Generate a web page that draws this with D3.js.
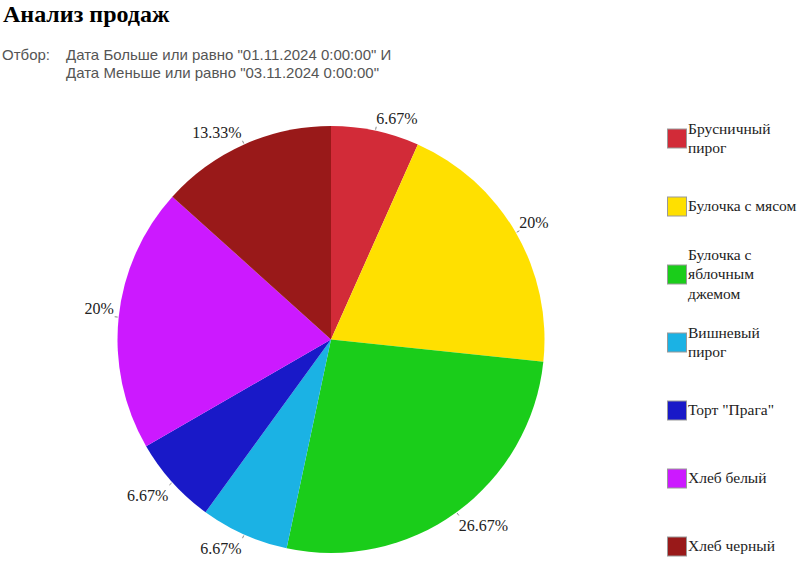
<!DOCTYPE html>
<html><head><meta charset="utf-8">
<script src="https://cdn.jsdelivr.net/npm/d3@7"></script>
<style>
body{margin:0;background:#fff;}
.serif{font-family:"Liberation Serif","Times New Roman",Times,serif;}
.sans{font-family:"Liberation Sans",Arial,Helvetica,sans-serif;}
</style></head>
<body>
<svg id="c" width="812" height="580"></svg>
<script>
const categories = ["Брусничный пирог","Булочка с мясом","Булочка с яблочным джемом","Вишневый пирог","Торт \"Прага\"","Хлеб белый","Хлеб черный"];
const values = [1,3,4,1,1,3,2];
const colors = ["#D22B38","#FFE000","#1ACD1A","#1BB2E4","#1919C8","#CC19FF","#991919"];
const legendLines = [["Брусничный","пирог"],["Булочка с мясом"],["Булочка с","яблочным","джемом"],["Вишневый","пирог"],["Торт \"Прага\""],["Хлеб белый"],["Хлеб черный"]];

const svg = d3.select("#c");
svg.append("text").attr("class","serif").attr("x",3).attr("y",22).attr("font-weight","bold").attr("font-size",24).attr("fill","#000").text("Анализ продаж");
const sub = svg.append("g").attr("class","sans").attr("font-size",15).attr("fill","#555");
sub.append("text").attr("x",2).attr("y",60).text("Отбор:");
sub.append("text").attr("x",66).attr("y",60).text("Дата Больше или равно \"01.11.2024 0:00:00\" И");
sub.append("text").attr("x",66).attr("y",78).text("Дата Меньше или равно \"03.11.2024 0:00:00\"");

const cx = 331, cy = 339.5, r = 213.5;
const total = d3.sum(values);
const pie = d3.pie().sort(null).value(d=>d)(values);
const arc = d3.arc().innerRadius(0).outerRadius(r);
const g = svg.append("g").attr("transform",`translate(${cx},${cy})`);
g.selectAll("path").data(pie).join("path").attr("d",arc).attr("fill",(d,i)=>colors[i]);

const fmt = v => { const p = Math.round(v/total*10000)/100; return p + "%"; };
pie.forEach((d,i)=>{
  const a = (d.startAngle+d.endAngle)/2;
  const sx = Math.sin(a), sy = -Math.cos(a);
  const x1 = sx*(r+1), y1 = sy*(r+1), x2 = sx*(r+4), y2 = sy*(r+4);
  g.append("line").attr("x1",x1).attr("y1",y1).attr("x2",x2).attr("y2",y2).attr("stroke","#888").attr("stroke-width",1);
  const right = sx >= 0;
  const top = sy < 0;
  g.append("text").attr("class","serif").attr("x",x2 + (right?0:-1)).attr("y", top ? y2-3 : y2+16)
    .attr("text-anchor", right?"start":"end")
    .attr("font-size",16).attr("fill","#222")
    .text(fmt(d.data));
});

const lg = svg.append("g").attr("class","serif").attr("font-size",15.5).attr("fill","#222");
categories.forEach((c,i)=>{
  const yc = 138.5 + i*68;
  lg.append("rect").attr("x",667.5).attr("y",yc-9.5).attr("width",19).attr("height",19).attr("fill",colors[i]).attr("stroke","#999").attr("stroke-width",1);
  const lines = legendLines[i];
  const lh = 19.5;
  const top = yc - lines.length*lh/2;
  lines.forEach((t,j)=>{
    lg.append("text").attr("x",688).attr("y",top + j*lh + 14.5).text(t);
  });
});
</script>
</body></html>
